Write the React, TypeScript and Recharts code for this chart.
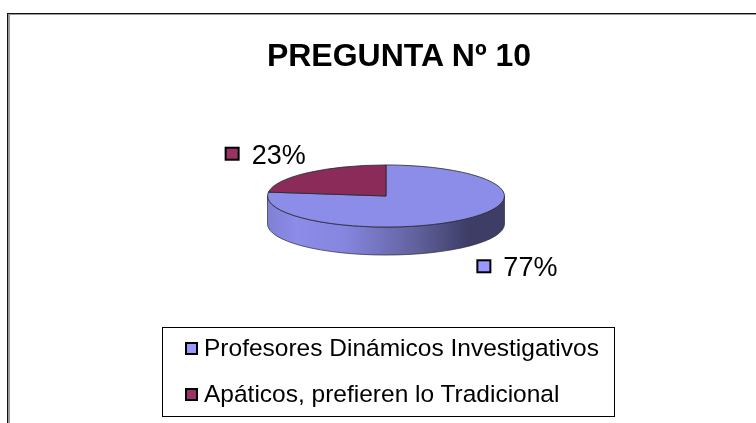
import React from "react";
import { PieChart, Pie, Legend } from "recharts";

const categories = ["Profesores Dinámicos Investigativos", "Apáticos, prefieren lo Tradicional"];
const percents = [77, 23];
const sliceColors = ["#8c8ce9", "#8a2b59"];
const keyColors = ["#9999ff", "#993366"];

const chartData = categories.map((name, i) => ({
  name,
  value: percents[i],
  fill: sliceColors[i],
}));

const FONT = '"Liberation Sans", Arial, sans-serif';
const TILT = 0.262;
const DEPTH = 28;
const RAD = Math.PI / 180;

// recharts only knows circles, so squash each sector into an ellipse
const ellipsePoint = (cx: number, cy: number, r: number, deg: number) => ({
  x: cx + r * Math.cos(deg * RAD),
  y: cy - r * TILT * Math.sin(deg * RAD),
});

const Slice3D = (props: any) => {
  const { cx, cy, outerRadius: r, startAngle, endAngle, fill } = props;
  const ry = r * TILT;
  const a = ellipsePoint(cx, cy, r, startAngle);
  const b = ellipsePoint(cx, cy, r, endAngle);
  const large = Math.abs(startAngle - endAngle) > 180 ? 1 : 0;
  const top = `M${cx},${cy} L${a.x},${a.y} A${r},${ry} 0 ${large} 1 ${b.x},${b.y} Z`;

  // side wall: only the front half of the rim shows
  const hi = Math.min(startAngle, 0);
  const lo = Math.max(endAngle, -180);
  let wall = null;
  if (hi > lo) {
    const p = ellipsePoint(cx, cy, r, hi);
    const q = ellipsePoint(cx, cy, r, lo);
    const d = `M${p.x},${p.y} A${r},${ry} 0 0 1 ${q.x},${q.y} L${q.x},${q.y + DEPTH} A${r},${ry} 0 0 0 ${p.x},${p.y + DEPTH} Z`;
    wall = <path d={d} fill="url(#wallShade)" stroke="#2b2b3a" strokeWidth={0.7} />;
  }
  return (
    <g>
      {wall}
      <path d={top} fill={fill} stroke="#26262e" strokeWidth={0.8} />
    </g>
  );
};

const renderLabel = (props: any) => {
  const { cx, cy, outerRadius: r, midAngle, value, index } = props;
  const edge = ellipsePoint(cx, cy, r, midAngle);
  const front = Math.sin(midAngle * RAD) < 0;
  const keyX = front ? edge.x + 13 : edge.x - 82;
  const midY = front ? edge.y + DEPTH + 19 : edge.y - 19;
  return (
    <g>
      <rect x={keyX} y={midY - 6} width={13} height={12} fill={keyColors[index]} stroke="#000" strokeWidth={2} />
      <text x={keyX + 26} y={midY + 10} fontFamily={FONT} fontSize={27} fill="#000">
        {value}%
      </text>
    </g>
  );
};

const LegendBox = () => (
  <div
    style={{
      boxSizing: "border-box",
      width: 453,
      height: 90,
      border: "1px solid #000",
      background: "#fff",
      overflow: "hidden",
    }}
  >
    {categories.map((name, i) => (
      <div key={name} style={{ display: "flex", alignItems: "center", height: 46, marginTop: i === 0 ? -3 : 0, paddingLeft: 22 }}>
        <span
          style={{
            boxSizing: "border-box",
            width: 13,
            height: 13,
            marginRight: 6,
            background: keyColors[i],
            border: "2px solid #000",
          }}
        />
        <span style={{ fontFamily: FONT, fontSize: 24.5, color: "#000", whiteSpace: "nowrap" }}>{name}</span>
      </div>
    ))}
  </div>
);

export default function App() {
  return (
    <div style={{ position: "absolute", left: 0, top: 0, width: 756, height: 423, background: "#fff", overflow: "hidden", filter: "blur(0.35px)" }}>
      <div style={{ position: "absolute", left: 7, top: 13, width: 749, height: 410, borderTop: "1px solid #111", borderLeft: "1px solid #111" }} />
      <div style={{ position: "absolute", left: 8, top: 14, width: 748, height: 409, borderTop: "1px solid #999", borderLeft: "2px solid #999", boxSizing: "border-box" }} />
      <PieChart width={756} height={423} style={{ position: "absolute", left: 0, top: 0 }}>
        <defs>
          <linearGradient id="wallShade" x1="0" y1="0" x2="1" y2="0">
            <stop offset="0" stopColor="#7f7fd4" />
            <stop offset="0.12" stopColor="#8c8ce9" />
            <stop offset="0.32" stopColor="#8686e0" />
            <stop offset="0.62" stopColor="#62629f" />
            <stop offset="0.85" stopColor="#3d3d66" />
            <stop offset="1" stopColor="#3d3d66" />
          </linearGradient>
        </defs>
        <text x={399} y={66} textAnchor="middle" fontFamily={FONT} fontSize={32} fontWeight="bold" fill="#000">
          PREGUNTA Nº 10
        </text>
        <Pie
          data={chartData}
          dataKey="value"
          nameKey="name"
          cx={381}
          cy={191}
          outerRadius={118.5}
          startAngle={90}
          endAngle={-270}
          stroke="none"
          shape={Slice3D}
          label={renderLabel}
          labelLine={false}
          isAnimationActive={false}
        />
        <Legend content={<LegendBox />} wrapperStyle={{ position: "absolute", left: 162, top: 327, width: 453, bottom: "auto" }} />
      </PieChart>
    </div>
  );
}
